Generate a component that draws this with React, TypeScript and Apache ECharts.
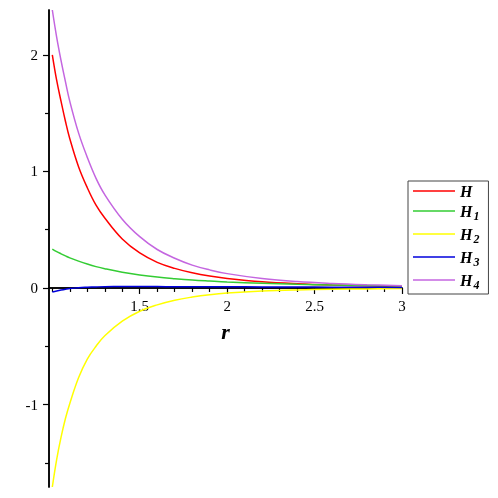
import React, { useEffect, useRef } from "react";
import * as echarts from "echarts";

const R = [1, 1.025, 1.05, 1.075, 1.1, 1.15, 1.2, 1.25, 1.3, 1.4, 1.5, 1.6, 1.7, 1.8, 1.9, 2.0, 2.2, 2.4, 2.6, 2.8, 3.0];
const H = [2.0, 1.78, 1.6, 1.43, 1.28, 1.04, 0.86, 0.71, 0.6, 0.42, 0.3, 0.22, 0.168, 0.13, 0.102, 0.082, 0.054, 0.037, 0.026, 0.019, 0.014];
const H1 = [0.334, 0.312, 0.293, 0.275, 0.258, 0.23, 0.205, 0.183, 0.165, 0.135, 0.112, 0.094, 0.08, 0.068, 0.059, 0.051, 0.04, 0.031, 0.025, 0.021, 0.017];
const H2 = [-1.707, -1.47, -1.28, -1.12, -0.99, -0.77, -0.61, -0.5, -0.41, -0.285, -0.2, -0.145, -0.105, -0.078, -0.058, -0.044, -0.027, -0.017, -0.011, -0.008, -0.005];
const H3 = [-0.035, -0.026, -0.018, -0.011, -0.005, 0.002, 0.006, 0.009, 0.011, 0.012, 0.012, 0.012, 0.011, 0.011, 0.01, 0.01, 0.009, 0.008, 0.007, 0.006, 0.005];
const H4 = [2.384, 2.15, 1.95, 1.77, 1.6, 1.33, 1.12, 0.94, 0.8, 0.59, 0.44, 0.33, 0.255, 0.196, 0.155, 0.123, 0.081, 0.055, 0.039, 0.028, 0.02];

const SERIES_NAMES = ["H", "H1", "H2", "H3", "H4"];
const SERIES_VALUES = [H, H1, H2, H3, H4];
const COLORS = ["#ff0000", "#33cc33", "#ffff00", "#0000dd", "#c466e0"];

const X_MAJOR = [1.5, 2, 2.5, 3];
const X_MINOR = [1.0, 1.1, 1.2, 1.3, 1.4, 1.6, 1.7, 1.8, 1.9, 2.1, 2.2, 2.3, 2.4, 2.6, 2.7, 2.8, 2.9];
const Y_MAJOR = [-1, 0, 1, 2];
const Y_MINOR = [-1.5, -0.5, 0.5, 1.5];

const X_MIN = 0.981;
const X_MAX = 3;
const Y_MIN = -1.707;
const Y_MAX = 2.384;

const SERIF = "Liberation Serif";

const GRID_TOP = 10;
const GRID_BOTTOM = 11;
const CHART_H = 498;

export default function App() {
  const ref = useRef<HTMLDivElement>(null);
  useEffect(() => {
    if (!ref.current) return;
    const chart = echarts.init(ref.current, null, { renderer: "svg" });
    // place the x axis where y = 0 falls on the value scale
    const plotH = CHART_H - GRID_TOP - GRID_BOTTOM;
    const zeroFromBottom = ((0 - Y_MIN) / (Y_MAX - Y_MIN)) * plotH;
    const xOffset = -zeroFromBottom;
    const axisLine = { show: true, onZero: false, lineStyle: { color: "#000", width: 1.5 } };
    chart.setOption({
      animation: false,
      grid: { left: 49, right: 96, top: GRID_TOP, bottom: GRID_BOTTOM, containLabel: false, outerBoundsMode: "none" },
      xAxis: [
        {
          type: "value",
          min: X_MIN,
          max: X_MAX,
          position: "bottom",
          offset: xOffset,
          axisLine,
          splitLine: { show: false },
          axisTick: { show: true, customValues: X_MAJOR, length: 6, lineStyle: { color: "#000", width: 1.2 } },
          axisLabel: {
            show: true,
            customValues: X_MAJOR,
            margin: 11,
            fontFamily: SERIF,
            fontSize: 15,
            color: "#000",
            formatter: (v: number) => String(v),
          },
          name: "r",
          nameLocation: "middle",
          nameGap: 33,
          nameTextStyle: { fontFamily: SERIF, fontSize: 22, fontWeight: "bold", fontStyle: "italic", color: "#000" },
        },
        {
          type: "value",
          min: X_MIN,
          max: X_MAX,
          position: "bottom",
          offset: xOffset,
          axisLine,
          splitLine: { show: false },
          axisTick: { show: true, customValues: X_MINOR, length: 4, lineStyle: { color: "#000", width: 1.2 } },
          axisLabel: { show: false },
        },
      ],
      yAxis: [
        {
          type: "value",
          min: Y_MIN,
          max: Y_MAX,
          position: "left",
          offset: 0,
          axisLine: { show: true, onZero: false, lineStyle: { color: "#000", width: 1.5 } },
          splitLine: { show: false },
          axisTick: { show: true, customValues: Y_MAJOR, length: 6, lineStyle: { color: "#000", width: 1.2 } },
          axisLabel: {
            show: true,
            customValues: Y_MAJOR,
            margin: 11,
            fontFamily: SERIF,
            fontSize: 15,
            color: "#000",
            formatter: (v: number) => String(v),
          },
        },
        {
          type: "value",
          min: Y_MIN,
          max: Y_MAX,
          position: "left",
          offset: 0,
          axisLine: { show: true, onZero: false, lineStyle: { color: "#000", width: 1.5 } },
          splitLine: { show: false },
          axisTick: { show: true, customValues: Y_MINOR, length: 4, lineStyle: { color: "#000", width: 1.2 } },
          axisLabel: { show: false },
        },
      ],
      legend: {
        show: true,
        orient: "vertical",
        left: 408,
        top: 181,
        padding: [2, 9, 3, 5],
        itemGap: 4,
        itemWidth: 42,
        itemHeight: 1.5,
        icon: "rect",
        borderColor: "#444",
        borderWidth: 1,
        data: SERIES_NAMES,
        formatter: (name: string) => (name.length === 1 ? `{m|${name}}` : `{m|H}{s|${name.slice(1)}}`),
        textStyle: {
          rich: {
            m: { fontFamily: SERIF, fontSize: 16, fontWeight: "bold", fontStyle: "italic", color: "#000", lineHeight: 22, verticalAlign: "middle" },
            s: { fontFamily: SERIF, fontSize: 12, fontWeight: "bold", fontStyle: "italic", color: "#000", lineHeight: 8, verticalAlign: "bottom", padding: [0, 0, 0, 1] },
          },
        },
      },
      series: SERIES_NAMES.map((name, i) => ({
        name,
        type: "line",
        xAxisIndex: 0,
        yAxisIndex: 0,
        data: R.map((r, j) => [r, SERIES_VALUES[i][j]]),
        showSymbol: false,
        symbol: "none",
        smooth: 0.4,
        lineStyle: { color: COLORS[i], width: 1.5 },
        itemStyle: { color: COLORS[i] },
      })),
    });
    return () => chart.dispose();
  }, []);
  return <div ref={ref} style={{ position: "fixed", left: 0, top: 0, width: 498, height: 498 }} />;
}
